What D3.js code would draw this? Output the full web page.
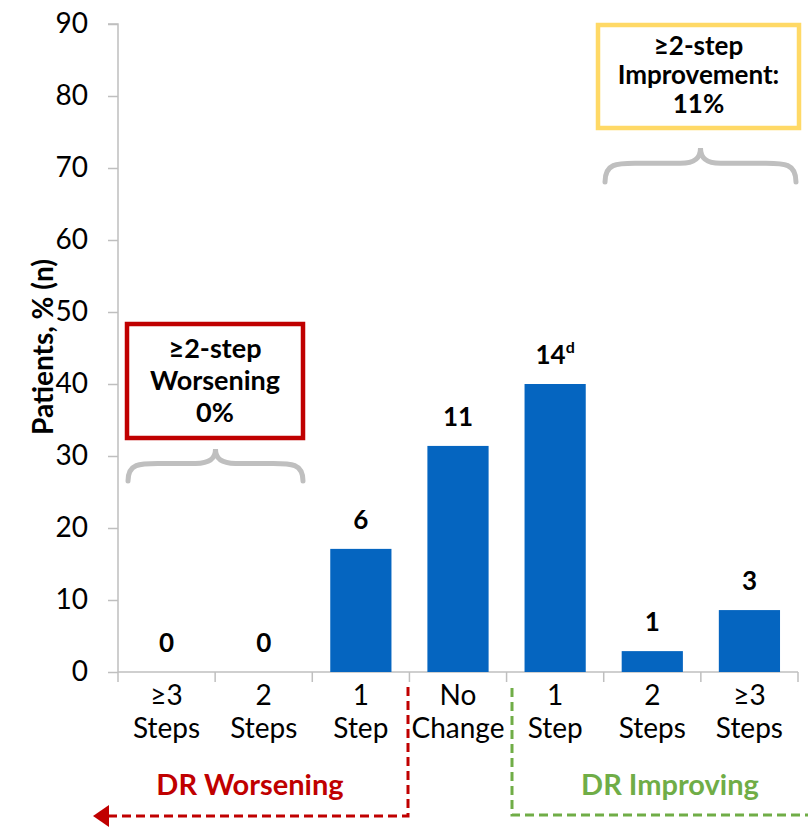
<!DOCTYPE html>
<html><head><meta charset="utf-8">
<script src="https://cdn.jsdelivr.net/npm/d3@7"></script>
<style>body{margin:0;background:#fff}svg{display:block}</style>
</head><body>
<script>
const categories = [["≥3","Steps"],["2","Steps"],["1","Step"],["No","Change"],["1","Step"],["2","Steps"],["≥3","Steps"]];
const percents = [0, 0, 17.1, 31.4, 40.0, 2.9, 8.6];
const counts = ["0","0","6","11","14","1","3"];
const superscripts = ["","","","","d","",""];
const yTicks = [0,10,20,30,40,50,60,70,80,90];
const yTitle = "Patients, % (n)";
const worseBox = ["≥2-step","Worsening","0%"];
const improveBox = ["≥2-step","Improvement:","11%"];

const W=808,H=828;
const svg=d3.select("body").append("svg").attr("width",W).attr("height",H);
const font="Lato, 'Open Sans', sans-serif";
const x=d3.scaleBand().domain(d3.range(categories.length)).range([118,798]).paddingInner(0).paddingOuter(0);
const y=d3.scaleLinear().domain([0,90]).range([672,24]);
const axisColor="#bfbfbf";

// y axis
const ya=svg.append("g").attr("transform","translate(118,0)")
  .call(d3.axisLeft(y).tickValues(yTicks).tickSize(10).tickPadding(20));
ya.selectAll("path,line").attr("stroke",axisColor).attr("stroke-width",1.5);
ya.select(".domain").attr("d","M-10,24H0V672");
ya.selectAll("text").attr("font-family",font).attr("font-size",28).attr("fill","#000");

// x axis
const xa=svg.append("g").attr("transform","translate(0,672)");
xa.append("line").attr("x1",118).attr("x2",798).attr("stroke",axisColor).attr("stroke-width",1.5);
d3.range(categories.length+1).forEach(i=>{
  const px = i<categories.length? x(i): 798;
  xa.append("line").attr("x1",px).attr("x2",px).attr("y1",0).attr("y2",10).attr("stroke",axisColor).attr("stroke-width",1.5);
});
categories.forEach((c,i)=>{
  const t=xa.append("text").attr("x",x(i)+x.bandwidth()/2).attr("text-anchor","middle")
    .attr("font-family",font).attr("font-size",28).attr("fill","#000");
  t.append("tspan").attr("x",x(i)+x.bandwidth()/2).attr("y",33).text(c[0]);
  t.append("tspan").attr("x",x(i)+x.bandwidth()/2).attr("y",66).text(c[1]);
});

// bars
const bw=x.bandwidth()*0.63;
svg.selectAll("rect.bar").data(percents).join("rect").attr("class","bar")
  .attr("x",(d,i)=>x(i)+(x.bandwidth()-bw)/2).attr("width",bw)
  .attr("y",d=>y(d)).attr("height",d=>y(0)-y(d)).attr("fill","#0565C0");

// value labels
percents.forEach((d,i)=>{
  const t=svg.append("text").attr("x",x(i)+x.bandwidth()/2).attr("y",y(d)-20)
    .attr("text-anchor","middle").attr("font-family",font).attr("font-weight","bold").attr("font-size",26).attr("fill","#000");
  t.append("tspan").text(counts[i]);
  if(superscripts[i]) t.append("tspan").attr("dy",-11).attr("font-size",16).text(superscripts[i]);
});

// y title
svg.append("text").attr("transform","translate(53,347) rotate(-90)").attr("text-anchor","middle")
  .attr("font-family",font).attr("font-weight","bold").attr("font-size",28).text(yTitle);

// boxes
function box(x0,y0,x1,y1,color,lines,ys,fs){
  svg.append("rect").attr("x",x0).attr("y",y0).attr("width",x1-x0).attr("height",y1-y0)
    .attr("fill","#fff").attr("stroke",color).attr("stroke-width",4.5);
  lines.forEach((l,i)=>svg.append("text").attr("x",(x0+x1)/2).attr("y",ys[i]).attr("text-anchor","middle")
    .attr("font-family",font).attr("font-weight","bold").attr("font-size",fs).text(l));
}
box(127,324,303,438,"#C00000",worseBox,[358,390,422],27);
box(598,25,799,128,"#FFD966",improveBox,[55,84,113],26);

// curly braces
function brace(x0,x1,yTop,yBot){
  const m=(x0+x1)/2, r=(yBot-yTop);
  const p=`M${x0},${yBot} C${x0},${yTop+r*0.45} ${x0+12},${yTop+r*0.45} ${x0+30},${yTop+r*0.45}
   L${m-20},${yTop+r*0.45} C${m-6},${yTop+r*0.45} ${m},${yTop+r*0.3} ${m},${yTop}
   C${m},${yTop+r*0.3} ${m+6},${yTop+r*0.45} ${m+20},${yTop+r*0.45}
   L${x1-30},${yTop+r*0.45} C${x1-12},${yTop+r*0.45} ${x1},${yTop+r*0.45} ${x1},${yBot}`;
  svg.append("path").attr("d",p).attr("fill","none").attr("stroke","#bfbfbf").attr("stroke-width",5).attr("stroke-linecap","round");
}
brace(128,303,449,481);
brace(605,796,148,182);

// bottom region markers
svg.append("path").attr("d","M408,687V816H106").attr("fill","none").attr("stroke","#C00000")
  .attr("stroke-width",3).attr("stroke-dasharray","9,5");
svg.append("path").attr("d","M93,816L109,805L109,827Z").attr("fill","#C00000");
svg.append("path").attr("d","M512,688V815H808").attr("fill","none").attr("stroke","#70AD47")
  .attr("stroke-width",3).attr("stroke-dasharray","9,5");
svg.append("text").attr("x",250).attr("y",795).attr("text-anchor","middle").attr("font-family",font)
  .attr("font-weight","bold").attr("font-size",29).attr("fill","#C00000").text("DR Worsening");
svg.append("text").attr("x",670).attr("y",795).attr("text-anchor","middle").attr("font-family",font)
  .attr("font-weight","bold").attr("font-size",29).attr("fill","#70AD47").text("DR Improving");
</script>
</body></html>
